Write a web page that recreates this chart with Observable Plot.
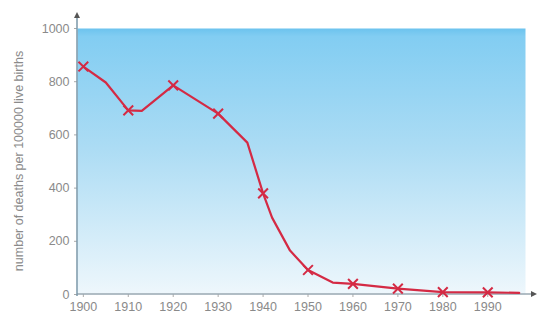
<!DOCTYPE html>
<html><head><meta charset="utf-8">
<script src="https://cdn.jsdelivr.net/npm/d3@7"></script>
<script src="https://cdn.jsdelivr.net/npm/@observablehq/plot@0.6"></script>
<style>body{margin:0;background:#fff}</style>
</head><body><div id="chart"></div>
<script>
const lineYears = [1900,1905,1910,1913,1920,1930,1936.5,1940,1942,1946,1950,1955.5,1960,1970,1980,1990,1997];
const lineValues = [857,797,692,690,786,680,571,380,289,165,92,45,40,22,9,8,6];
const markerYears = [1900,1910,1920,1930,1940,1950,1960,1970,1980,1990];
const markerValues = [857,692,786,680,380,92,40,22,9,8];
const xTicks = [1900,1910,1920,1930,1940,1950,1960,1970,1980,1990];
const yTicks = [0,200,400,600,800,1000];
const yLabel = "number of deaths per 100000 live births";

const lineData = lineYears.map((x,i)=>({x, y: lineValues[i]}));
const markData = markerYears.map((x,i)=>({x, y: markerValues[i]}));

const axisColor = "#7a97a8";
const red = "#d42a44";
const font = "Liberation Sans, Arial, sans-serif";

const axes = (index, scales, values, dims) => {
  const g = d3.create("svg:g");
  const x0 = dims.marginLeft, y0 = dims.height - dims.marginBottom;
  const xr = dims.width - 2, yt = 12;
  g.append("line").attr("x1", x0).attr("x2", xr - 4).attr("y1", y0).attr("y2", y0)
    .attr("stroke", "#9aa9b2").attr("stroke-width", 1.5);
  g.append("path").attr("d", `M${xr},${y0}L${xr-6},${y0-3}L${xr-6},${y0+3}Z`).attr("fill", "#555");
  g.append("line").attr("x1", x0).attr("x2", x0).attr("y1", y0 + 2).attr("y2", yt + 4)
    .attr("stroke", axisColor).attr("stroke-width", 1.5);
  g.append("path").attr("d", `M${x0},${yt}L${x0-3},${yt+6}L${x0+3},${yt+6}Z`).attr("fill", "#555");
  return g.node();
};

const plot = Plot.plot({
  width: 539, height: 321,
  marginLeft: 77, marginRight: 14, marginTop: 28, marginBottom: 27,
  style: {fontFamily: font, fontSize: "12.5px", color: "#888", background: "transparent"},
  x: {domain: [1898.7, 1998.4], label: null},
  y: {domain: [0, 1000], label: null},
  marks: [
    Plot.frame({fill: "url(#bgGrad)", stroke: null}),
    Plot.axisX({ticks: xTicks, tickFormat: d => String(d), tickSize: 3, tickPadding: 5, stroke: "#aaa", fill: "#8a8a8a", fontSize: 12.5}),
    Plot.axisY({ticks: yTicks, tickFormat: d => String(d), tickSize: 3, tickPadding: 5, stroke: "#aaa", fill: "#8a8a8a", fontSize: 12.5}),
    axes,
    Plot.line(lineData, {x: "x", y: "y", stroke: red, strokeWidth: 2.2, curve: "linear", strokeLinejoin: "round"}),
    Plot.dot(markData, {x: "x", y: "y", symbol: "times", r: 4.5, stroke: red, strokeWidth: 2})
  ]
});

const defs = d3.select(plot).insert("defs", ":first-child");
const grad = defs.append("linearGradient").attr("id", "bgGrad").attr("x1", 0).attr("y1", 0).attr("x2", 0).attr("y2", 1);
grad.append("stop").attr("offset", "0%").attr("stop-color", "#6cc3ee");
grad.append("stop").attr("offset", "3%").attr("stop-color", "#82cdf2");
grad.append("stop").attr("offset", "45%").attr("stop-color", "#acdcf4");
grad.append("stop").attr("offset", "100%").attr("stop-color", "#eef7fc");

d3.select(plot).append("text")
  .attr("transform", "translate(20,161) rotate(-90)")
  .attr("text-anchor", "middle").attr("dominant-baseline", "middle")
  .attr("fill", "#8a8a8a").attr("font-size", 12.5)
  .attr("font-family", font)
  .text(yLabel);

document.getElementById("chart").appendChild(plot);
</script>
</body></html>
